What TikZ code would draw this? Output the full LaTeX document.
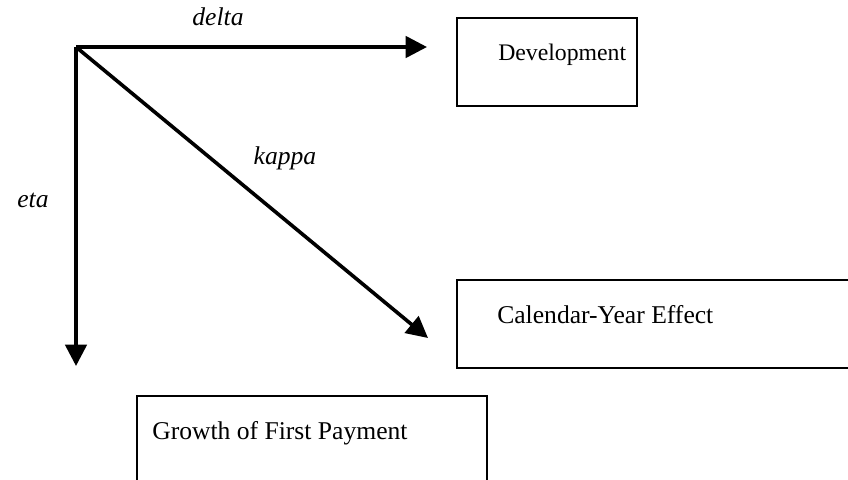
\documentclass[tikz,border=0pt]{standalone}
\usepackage{fontspec}
\setmainfont{Liberation Serif}
\usetikzlibrary{arrows.meta,positioning}
\tikzset{
  effbox/.style={draw, line width=1.4pt, anchor=north west, inner sep=0pt, minimum height=66pt},
  efftext/.style={anchor=base west, inner sep=0pt, font=\fontsize{19.2}{23}\selectfont},
  param/.style={inner sep=0pt, font=\itshape\fontsize{19.2}{23}\selectfont},
  flow/.style={line width=2.7pt, -{Triangle[length=16pt,width=16pt]}}
}
\begin{document}
\begin{tikzpicture}[x=0.75pt,y=-0.75pt]
\useasboundingbox (0,0) rectangle (848,479);
% boxes
\node[effbox, minimum width=135pt] (dev) at (456,17) {};
\node[effbox, minimum width=300pt] (cal) at (456,279) {};
\node[effbox, minimum width=262.5pt, minimum height=70pt] (grow) at (136,395) {};
\node[efftext, font=\fontsize{17.8}{22}\selectfont] (devtxt) at ([shift={(42,43)}]dev.north west) {Development};
\node[efftext] (caltxt) at ([shift={(41,44)}]cal.north west) {Calendar-Year Effect};
\node[efftext] (growtxt) at ([shift={(16,44)}]grow.north west) {Growth of First Payment};
% arrows
\coordinate (o) at (76,47);
\coordinate (dtip) at (427,47);
\coordinate (ktip) at (428,338);
\coordinate (etip) at (76,366);
\draw[flow] (o) -- (dtip);
\draw[flow] (o) -- (ktip);
\draw[flow] (o) -- (etip);
\node[param] (delta) at (218,17) {delta};
\node[param] (kappa) at (285,158) {kappa};
\node[param] (eta) at (33,200) {eta};
\end{tikzpicture}
\end{document}
